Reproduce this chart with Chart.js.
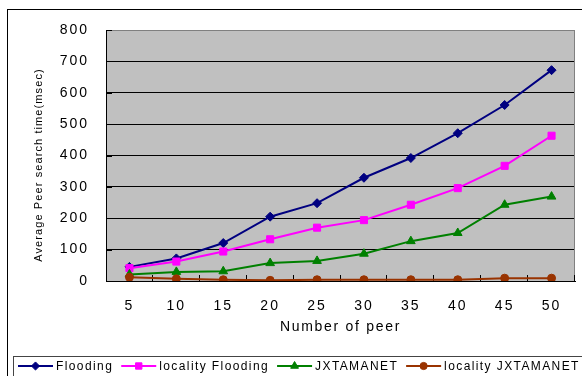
<!DOCTYPE html>
<html><head><meta charset="utf-8">
<script src="https://cdn.jsdelivr.net/npm/chart.js@4/dist/chart.umd.min.js"></script>
<style>html,body{margin:0;padding:0;background:#fff}canvas{display:block}</style>
</head><body>
<canvas id="c" width="582" height="376"></canvas>
<script>
const categories = ['5','10','15','20','25','30','35','40','45','50'];
const flooding = [45, 72, 121, 205, 248, 329, 392, 471, 561, 672];
const localityFlooding = [41, 62, 94, 133, 170, 194, 243, 296, 367, 463];
const jxtamanet = [21, 29, 31, 57, 64, 87, 127, 153, 243, 269];
const localityJxtamanet = [12, 7, 4, 2, 4, 4, 4, 4, 9, 9];
const seriesNames = ['Flooding', 'locality Flooding', 'JXTAMANET', 'locality JXTAMANET'];
const yTickValues = [0, 100, 200, 300, 400, 500, 600, 700, 800];
const xTitle = 'Number of peer';
const yTitle = 'Average Peer search time(msec)';

const FONT = '"Liberation Sans", Arial, sans-serif';
const colors = ['#000080', '#FF00FF', '#008000', '#993300'];
const styles = [
  {pointStyle: 'rectRot', radius: 4.5},
  {pointStyle: 'rect', radius: 5},
  {pointStyle: 'triangle', radius: 5},
  {pointStyle: 'circle', radius: 4}
];
const values = [flooding, localityFlooding, jxtamanet, localityJxtamanet];

const datasets = values.map((v, i) => ({
  label: seriesNames[i],
  data: v,
  borderColor: colors[i],
  backgroundColor: colors[i],
  pointBackgroundColor: colors[i],
  pointBorderColor: colors[i],
  pointStyle: styles[i].pointStyle,
  pointRadius: styles[i].radius,
  pointBorderWidth: 1,
  borderWidth: 2,
  tension: 0,
  fill: false,
  order: 3 - i
}));

const deco = {
  id: 'deco',
  beforeDraw(chart) {
    const ctx = chart.ctx, a = chart.chartArea;
    ctx.save();
    ctx.fillStyle = '#fff';
    ctx.fillRect(0, 0, chart.width, chart.height);
    ctx.strokeStyle = '#000';
    ctx.lineWidth = 1;
    ctx.strokeRect(7.5, 9.5, 700, 500);
    ctx.strokeStyle = '#444';
    ctx.strokeRect(13.5, 356.5, 700, 100);
    ctx.fillStyle = '#C0C0C0';
    ctx.fillRect(a.left, a.top, a.right - a.left, a.bottom - a.top);
    ctx.restore();
    ctx.letterSpacing = '2px';
  },
  beforeDatasetsDraw(chart) {
    const ctx = chart.ctx, a = chart.chartArea;
    const ys = chart.scales.y;
    ctx.save();
    ctx.strokeStyle = '#808080';
    ctx.lineWidth = 1;
    ctx.beginPath();
    ctx.moveTo(Math.round(a.right) - 0.5, a.top);
    ctx.lineTo(Math.round(a.right) - 0.5, a.bottom);
    ctx.stroke();
    ctx.strokeStyle = '#000';
    ctx.beginPath();
    yTickValues.forEach(v => {
      const y = Math.round(ys.getPixelForValue(v)) + 0.5;
      ctx.moveTo(a.left, y); ctx.lineTo(a.left + 6, y);
    });
    const n = categories.length;
    const step = (a.right - a.left) / n;
    for (let i = 1; i <= n; i++) {
      const x = Math.round(a.left + i * step) - 0.5;
      ctx.moveTo(x, a.bottom); ctx.lineTo(x, a.bottom - 6);
    }
    ctx.stroke();
    ctx.restore();
  },
  afterDraw(chart) {
    const ctx = chart.ctx, a = chart.chartArea;
    ctx.save();
    ctx.fillStyle = '#000';
    ctx.letterSpacing = '1.7px';
    ctx.font = '14px ' + FONT;
    ctx.textAlign = 'center';
    ctx.textBaseline = 'middle';
    ctx.fillText(xTitle, (a.left + a.right) / 2, 327);
    ctx.save();
    ctx.letterSpacing = '1.1px';
    ctx.font = '11px ' + FONT;
    ctx.translate(39, 165);
    ctx.rotate(-Math.PI / 2);
    ctx.fillText(yTitle, 0, 0);
    ctx.restore();
    ctx.letterSpacing = '1.4px';
    ctx.font = '12px ' + FONT;
    ctx.textAlign = 'left';
    let x = 18;
    const y = 366;
    chart.data.datasets.forEach((ds, i) => {
      ctx.strokeStyle = ds.borderColor;
      ctx.lineWidth = 2;
      ctx.beginPath();
      ctx.moveTo(x, y); ctx.lineTo(x + 35, y);
      ctx.stroke();
      ctx.fillStyle = ds.borderColor;
      ctx.lineWidth = 1;
      Chart.helpers.drawPoint(ctx, {pointStyle: ds.pointStyle, radius: ds.pointRadius * 0.9, rotation: 0, borderWidth: 1}, x + 17.5, y);
      ctx.fillStyle = '#000';
      ctx.fillText(ds.label, x + 38, y + 1);
      x = x + 38 + ctx.measureText(ds.label).width + 8;
    });
    ctx.restore();
  }
};

new Chart(document.getElementById('c'), {
  type: 'line',
  data: {labels: categories, datasets},
  plugins: [deco],
  options: {
    responsive: false,
    animation: false,
    devicePixelRatio: 1,
    layout: {padding: {top: 30, right: 7, left: 0, bottom: 0}},
    plugins: {legend: {display: false}, tooltip: {enabled: false}},
    scales: {
      x: {
        type: 'category',
        offset: true,
        grid: {display: false, drawTicks: false},
        border: {display: true, color: '#000', width: 1},
        ticks: {color: '#000', font: {family: FONT, size: 14}, padding: 17, maxRotation: 0, autoSkip: false},
        afterFit(s) { s.height = 95; }
      },
      y: {
        min: 0, max: 800,
        afterBuildTicks(s) { s.ticks = yTickValues.map(v => ({value: v})); },
        grid: {
          drawTicks: false,
          color: c => (c.tick && c.tick.value === 800) ? '#808080' : '#000',
          lineWidth: 1
        },
        border: {display: true, color: '#000', width: 1},
        ticks: {color: '#000', font: {family: FONT, size: 14}, padding: 17},
        afterFit(s) { s.width = 106; }
      }
    }
  }
});
</script>
</body></html>
